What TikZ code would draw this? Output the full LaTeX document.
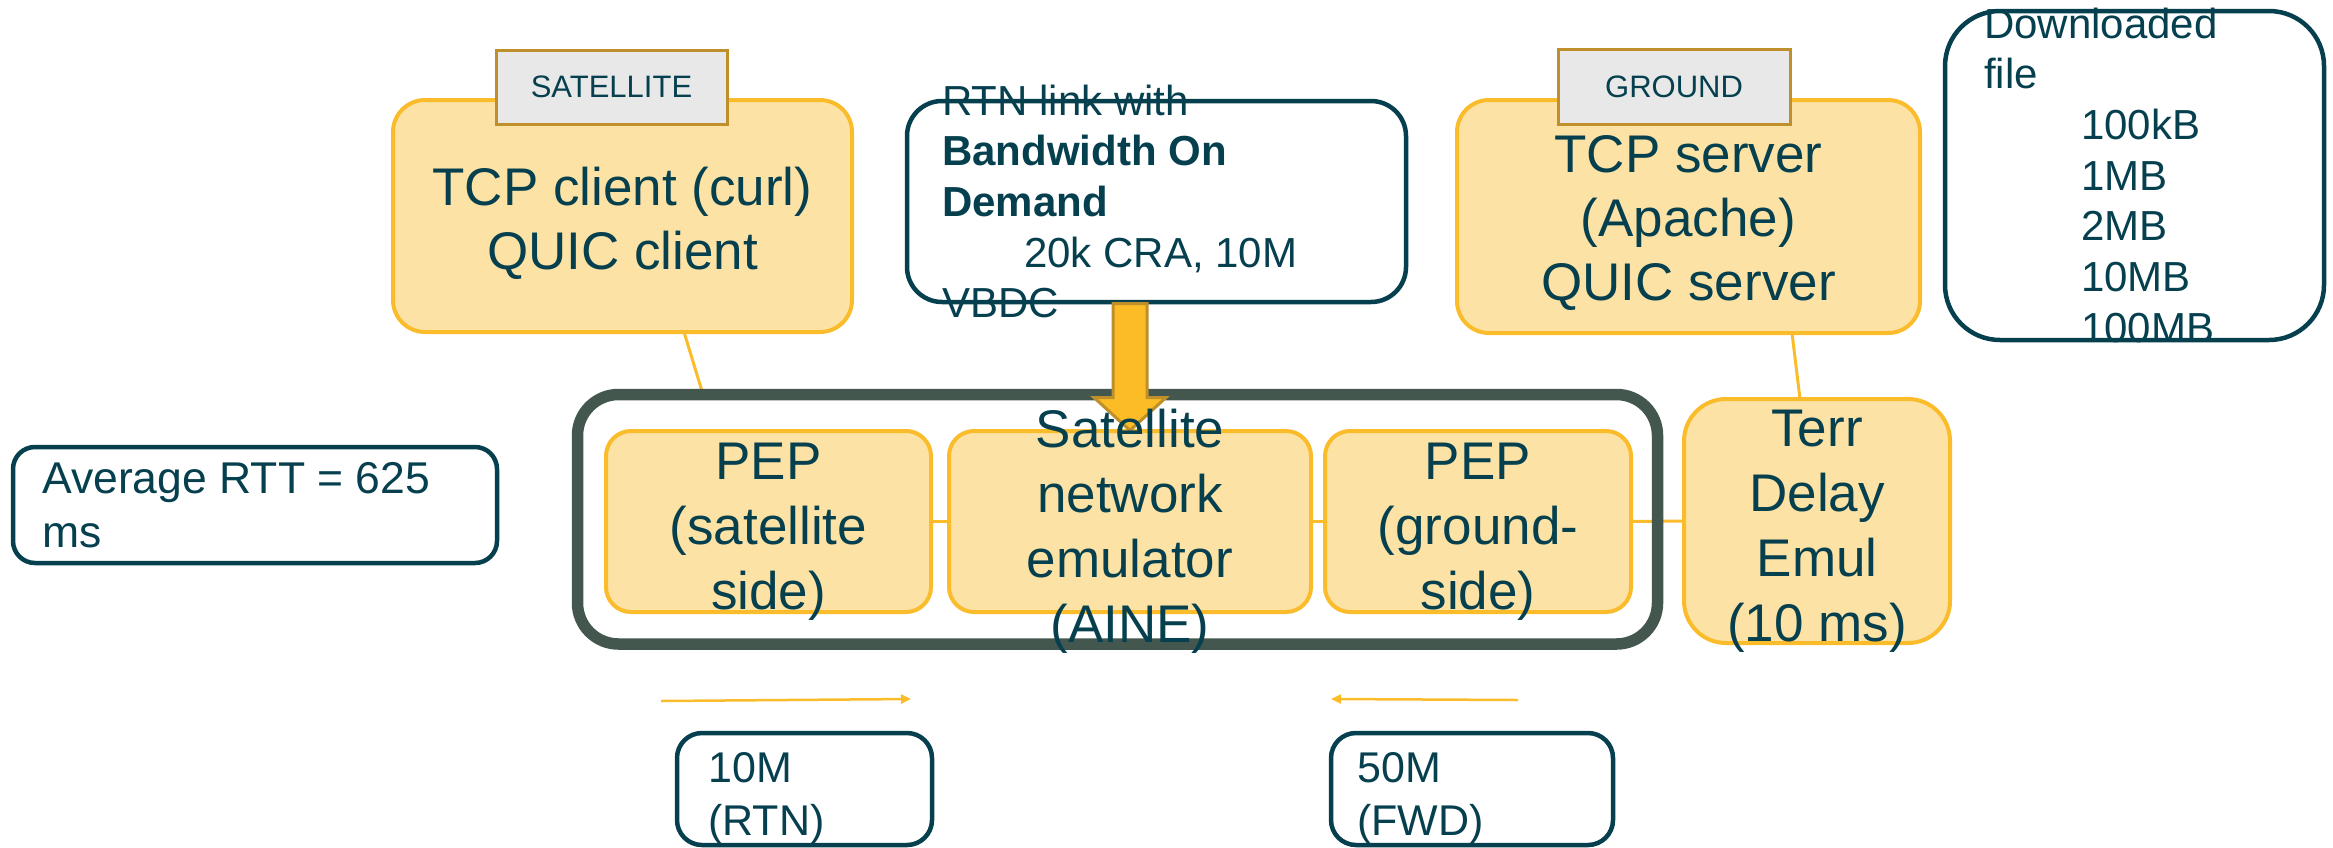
\documentclass[tikz,border=0pt]{standalone}
\usepackage{fontspec}
\setmainfont{Liberation Sans}
\usetikzlibrary{calc,arrows.meta}
\pgfdeclarelayer{background}
\pgfsetlayers{background,main}
\definecolor{yfill}{HTML}{FCE2A4}
\definecolor{yline}{HTML}{FBBC2B}
\definecolor{tealc}{HTML}{06404F}
\definecolor{framec}{HTML}{43574F}
\definecolor{lblfill}{HTML}{E8E8E8}
\definecolor{lblline}{HTML}{BE8F2B}
\definecolor{arrfill}{HTML}{FBBC25}
\newcommand{\mlc}[1]{\begin{tabular}[t]{@{}c@{}}#1\end{tabular}}
\newcommand{\mll}[1]{\begin{tabular}[t]{@{}l@{}}#1\end{tabular}}
\begin{document}
\begin{tikzpicture}[x=1pt,y=-1pt,
  ybox/.style={draw=yline, fill=yfill, line width=4pt, inner sep=0pt, outer sep=0pt},
  dbox/.style={draw=tealc, fill=white, line width=4.5pt, inner sep=0pt, outer sep=0pt},
  framebox/.style={draw=framec, line width=11.5pt, rounded corners=41pt, inner sep=0pt, outer sep=0pt},
  lbl/.style={draw=lblline, fill=lblfill, line width=3pt, inner sep=0pt, outer sep=0pt, text=tealc, font=\fontsize{31}{37}\selectfont},
  bigtxt/.style={text=tealc, font=\fontsize{53}{64}\selectfont, inner sep=0pt, anchor=base},
  inntxt/.style={text=tealc, font=\fontsize{53}{65}\selectfont, inner sep=0pt, anchor=base},
  smtxt/.style={text=tealc, font=\fontsize{42}{50.7}\selectfont, inner sep=0pt, anchor=base west},
  link/.style={draw=yline, line width=3pt},
  rate/.style={draw=yline, line width=2.5pt, -{Triangle[length=10pt,width=9pt]}},
  blockarrow/.style={draw=lblline, fill=arrfill, line width=3pt, line join=miter}
]
\useasboundingbox (0,0) rectangle (2333,847);

% yellow boxes
\node[ybox, rounded corners=32pt, minimum width=459pt, minimum height=232pt] (client) at (622.5,216) {};
\node[ybox, rounded corners=32pt, minimum width=463pt, minimum height=233pt] (server) at (1688.5,216.5) {};
\node[ybox, rounded corners=25pt, minimum width=325pt, minimum height=181pt] (pepsat) at (768.5,521.5) {};
\node[ybox, rounded corners=25pt, minimum width=362pt, minimum height=181pt] (emu) at (1130,521.5) {};
\node[ybox, rounded corners=25pt, minimum width=306pt, minimum height=181pt] (pepgnd) at (1478,521.5) {};
\node[ybox, rounded corners=42pt, minimum width=266pt, minimum height=244pt] (terr) at (1817,521) {};

% frame round the satellite segment
\node[framebox, minimum width=1080pt, minimum height=249.5pt] (frame) at (1117.5,519.25) {};

% connectors behind everything
\begin{pgfonlayer}{background}
\draw[link] ($(client.south)+(61.5,0)$) -- ($(frame.north west)+(125.5,0)$);
\draw[link] ($(server.south)+(103.5,0)$) -- ($(terr.north)+(-17,0)$);
\draw[link] (pepsat.east) -- (emu.west);
\draw[link] (emu.east) -- (pepgnd.west);
\draw[link] (pepgnd.east) -- (terr.west);
\end{pgfonlayer}

% dark outlined boxes
\node[dbox, rounded corners=35pt, minimum width=499pt, minimum height=201pt] (rtn) at (1156.5,201.5) {};
\node[dbox, rounded corners=55pt, minimum width=379pt, minimum height=329pt] (dl) at (2134.5,175.5) {};
\node[dbox, rounded corners=22pt, minimum width=484pt, minimum height=116pt] (avg) at (255,505) {};
\node[dbox, rounded corners=25pt, minimum width=255pt, minimum height=112pt] (rtnrate) at (804.5,789) {};
\node[dbox, rounded corners=25pt, minimum width=282pt, minimum height=112pt] (fwdrate) at (1472,789) {};

% block arrow from RTN box into the emulator
\coordinate (bt) at ($(rtn.south)+(-26.5,1.5)$);
\draw[blockarrow] ($(bt)+(-17,0)$) -- ++(34,0) -- ++(0,94) -- ++(19,0) -- ++(-36,33) -- ++(-36,-33) -- ++(19,0) -- cycle;

% rate arrows
\coordinate (r1s) at (661,701);
\coordinate (r1e) at (911,699);
\coordinate (r2s) at (1518,700);
\coordinate (r2e) at (1331,699);
\draw[rate] (r1s) -- (r1e);
\draw[rate] (r2s) -- (r2e);

% labels
\node[lbl, minimum width=231pt, minimum height=74pt] (satlbl) at (611.5,87) {SATELLITE};
\node[lbl, minimum width=232pt, minimum height=75pt] (gndlbl) at (1674,86.5) {GROUND};

% texts
\node[bigtxt] (clienttxt) at (622.5,205) {\mlc{TCP client (curl)\\QUIC client}};
\node[bigtxt] (servertxt) at (1688.5,172) {\mlc{TCP server\\(Apache)\\QUIC server}};
\node[inntxt] (pepsattxt) at (768.5,479) {\mlc{PEP\\(satellite\\side)}};
\node[inntxt] (emutxt) at (1130,447) {\mlc{Satellite\\network\\emulator\\(AINE)}};
\node[inntxt] (pepgndtxt) at (1478,479) {\mlc{PEP\\(ground-\\side)}};
\node[inntxt] (terrtxt) at (1817,446) {\mlc{Terr\\Delay\\Emul\\(10 ms)}};

\node[smtxt] (rtntxt) at (942,115) {\mll{RTN link with\\\textbf{Bandwidth On}\\\textbf{Demand}\\\hspace*{82pt}20k CRA, 10M\\VBDC}};
\node[smtxt] (dltxt) at (1984,38) {\mll{Downloaded\\file\\\hspace*{97pt}100kB\\\hspace*{97pt}1MB\\\hspace*{97pt}2MB\\\hspace*{97pt}10MB\\\hspace*{97pt}100MB}};
\node[smtxt, font=\fontsize{44.5}{54}\selectfont] (avgtxt) at (42,493) {\mll{Average RTT = 625\\ms}};
\node[smtxt, font=\fontsize{43}{53}\selectfont] (rtnratetxt) at (708,782) {\mll{10M\\(RTN)}};
\node[smtxt, font=\fontsize{43}{53}\selectfont] (fwdratetxt) at (1357,782) {\mll{50M\\(FWD)}};
\end{tikzpicture}
\end{document}
